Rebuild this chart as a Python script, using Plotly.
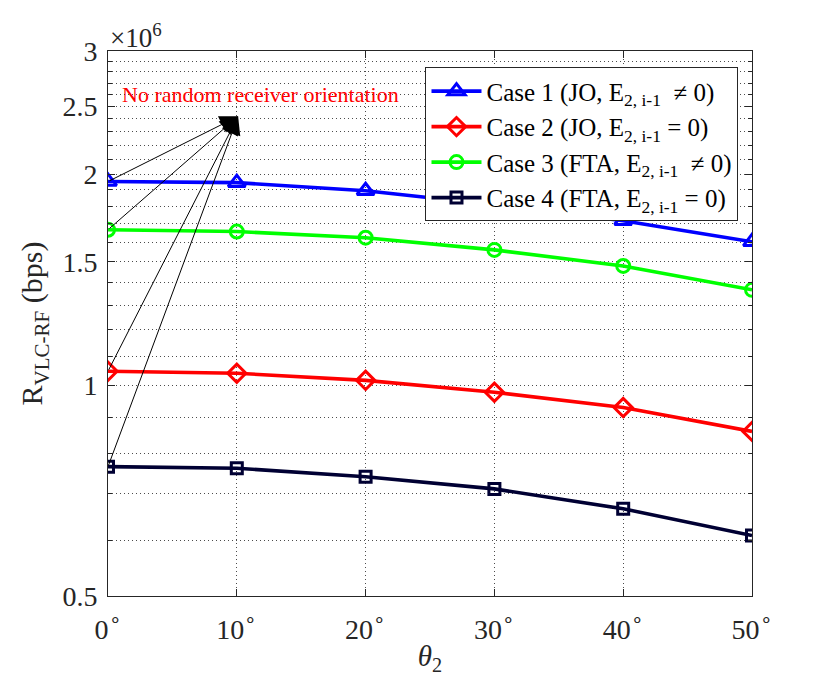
import numpy as np
import plotly.graph_objects as go

# theta_2 in degrees
theta = [0, 10, 20, 30, 40, 50]

# R_VLC-RF in units of 1e6 bps
case1 = [1.953, 1.946, 1.895, 1.81, 1.717, 1.602]
case2 = [1.047, 1.040, 1.016, 0.977, 0.929, 0.859]
case3 = [1.667, 1.657, 1.624, 1.56, 1.48, 1.368]
case4 = [0.765, 0.761, 0.740, 0.711, 0.666, 0.610]

names = [
    "Case 1 (JO, E<sub>2, i-1</sub>  ≠ 0)",
    "Case 2 (JO, E<sub>2, i-1</sub> = 0)",
    "Case 3 (FTA, E<sub>2, i-1</sub>  ≠ 0)",
    "Case 4 (FTA, E<sub>2, i-1</sub> = 0)",
]
colors = ["#0000ff", "#ff0000", "#00ff00", "#000033"]
symbols = ["triangle-up-open", "diamond-open", "circle-open", "square-open"]
sizes = [15, 14, 13, 11]

x_ticks = [0, 10, 20, 30, 40, 50]
x_ticktext = [f"{t}<sup>∘</sup>" for t in x_ticks]
y_ticks = [0.5, 1, 1.5, 2, 2.5, 3]
y_ticktext = ["0.5", "1", "1.5", "2", "2.5", "3"]
y_minor = [0.6, 0.7, 0.8, 0.9, 1.1, 1.2, 1.3, 1.4, 1.6, 1.7, 1.8, 1.9,
           2.1, 2.2, 2.3, 2.4, 2.6, 2.7, 2.8, 2.9]

# arrow tip of the "No random receiver orientation" note
arrow_tip = (10.1, 2.42)
note_pos = (0.9, 2.6)

FONT = "Liberation Serif, Times New Roman, serif"
grid = "rgba(0,0,0,0.7)"
dots = "1px,3px"
axcol = "#262626"

fig = go.Figure()
series = [case1, case2, case3, case4]
for y, name, c, s, sz in zip(series, names, colors, symbols, sizes):
    fig.add_trace(go.Scatter(
        x=theta, y=y, name=name, mode="lines+markers",
        line=dict(color=c, width=3.6),
        marker=dict(symbol=s, size=sz, color=c, line=dict(color=c, width=3)),
    ))

annotations = []
for y in series:
    annotations.append(dict(
        x=arrow_tip[0], y=np.log10(arrow_tip[1]), xref="x", yref="y",
        ax=theta[0], ay=np.log10(y[0]), axref="x", ayref="y",
        text="", showarrow=True, arrowhead=2, arrowsize=3.6,
        arrowwidth=1, arrowcolor="black", standoff=0, startstandoff=0,
    ))
annotations.append(dict(
    x=note_pos[0], y=np.log10(note_pos[1]), xref="x", yref="y",
    xanchor="left", yanchor="middle", showarrow=False,
    text="No random receiver orientation",
    font=dict(family=FONT, size=22, color="#ff0000"),
))
annotations.append(dict(
    x=0, y=1, xref="paper", yref="paper", xanchor="left", yanchor="bottom",
    showarrow=False, text="×10<sup>6</sup>", yshift=-4,
    font=dict(family=FONT, size=27, color=axcol),
))

# the page body adds an 8px offset, so margins are trimmed by 8 on the left/top
fig.update_layout(
    width=830, height=692,
    margin=dict(l=100, r=86, t=43, b=104),
    paper_bgcolor="white", plot_bgcolor="white",
    font=dict(family=FONT, size=25, color=axcol),
    showlegend=True,
    legend=dict(
        x=0.493, y=0.97, xanchor="left", yanchor="top",
        bgcolor="white", bordercolor=axcol, borderwidth=1,
        font=dict(family=FONT, size=25, color="black"),
        itemwidth=50, tracegroupgap=0,
    ),
    annotations=annotations,
)

fig.update_xaxes(
    range=[0, 50], tickvals=x_ticks, ticktext=x_ticktext,
    showline=True, linecolor=axcol, linewidth=1, mirror="ticks",
    ticks="inside", ticklen=7, tickcolor=axcol,
    showgrid=True, gridcolor=grid, griddash=dots, gridwidth=1,
    zeroline=False, automargin=False, ticklabelstandoff=8,
    title=dict(text="<i>θ</i><sub>2</sub>", font=dict(size=29), standoff=2),
    tickfont=dict(size=28),
)
fig.update_yaxes(
    type="log", range=[np.log10(0.5), np.log10(3)],
    tickvals=y_ticks, ticktext=y_ticktext,
    showline=True, linecolor=axcol, linewidth=1, mirror="ticks",
    ticks="inside", ticklen=7, tickcolor=axcol,
    showgrid=True, gridcolor=grid, griddash=dots, gridwidth=1,
    minor=dict(tickvals=y_minor, ticks="inside", ticklen=4, tickcolor=axcol,
               showgrid=True, gridcolor=grid, griddash=dots, gridwidth=1),
    zeroline=False, automargin=False, ticklabelstandoff=4,
    title=dict(text="R<sub>VLC-RF</sub> (bps)", font=dict(size=30), standoff=10),
    tickfont=dict(size=28),
)

fig.write_html("out.html")
